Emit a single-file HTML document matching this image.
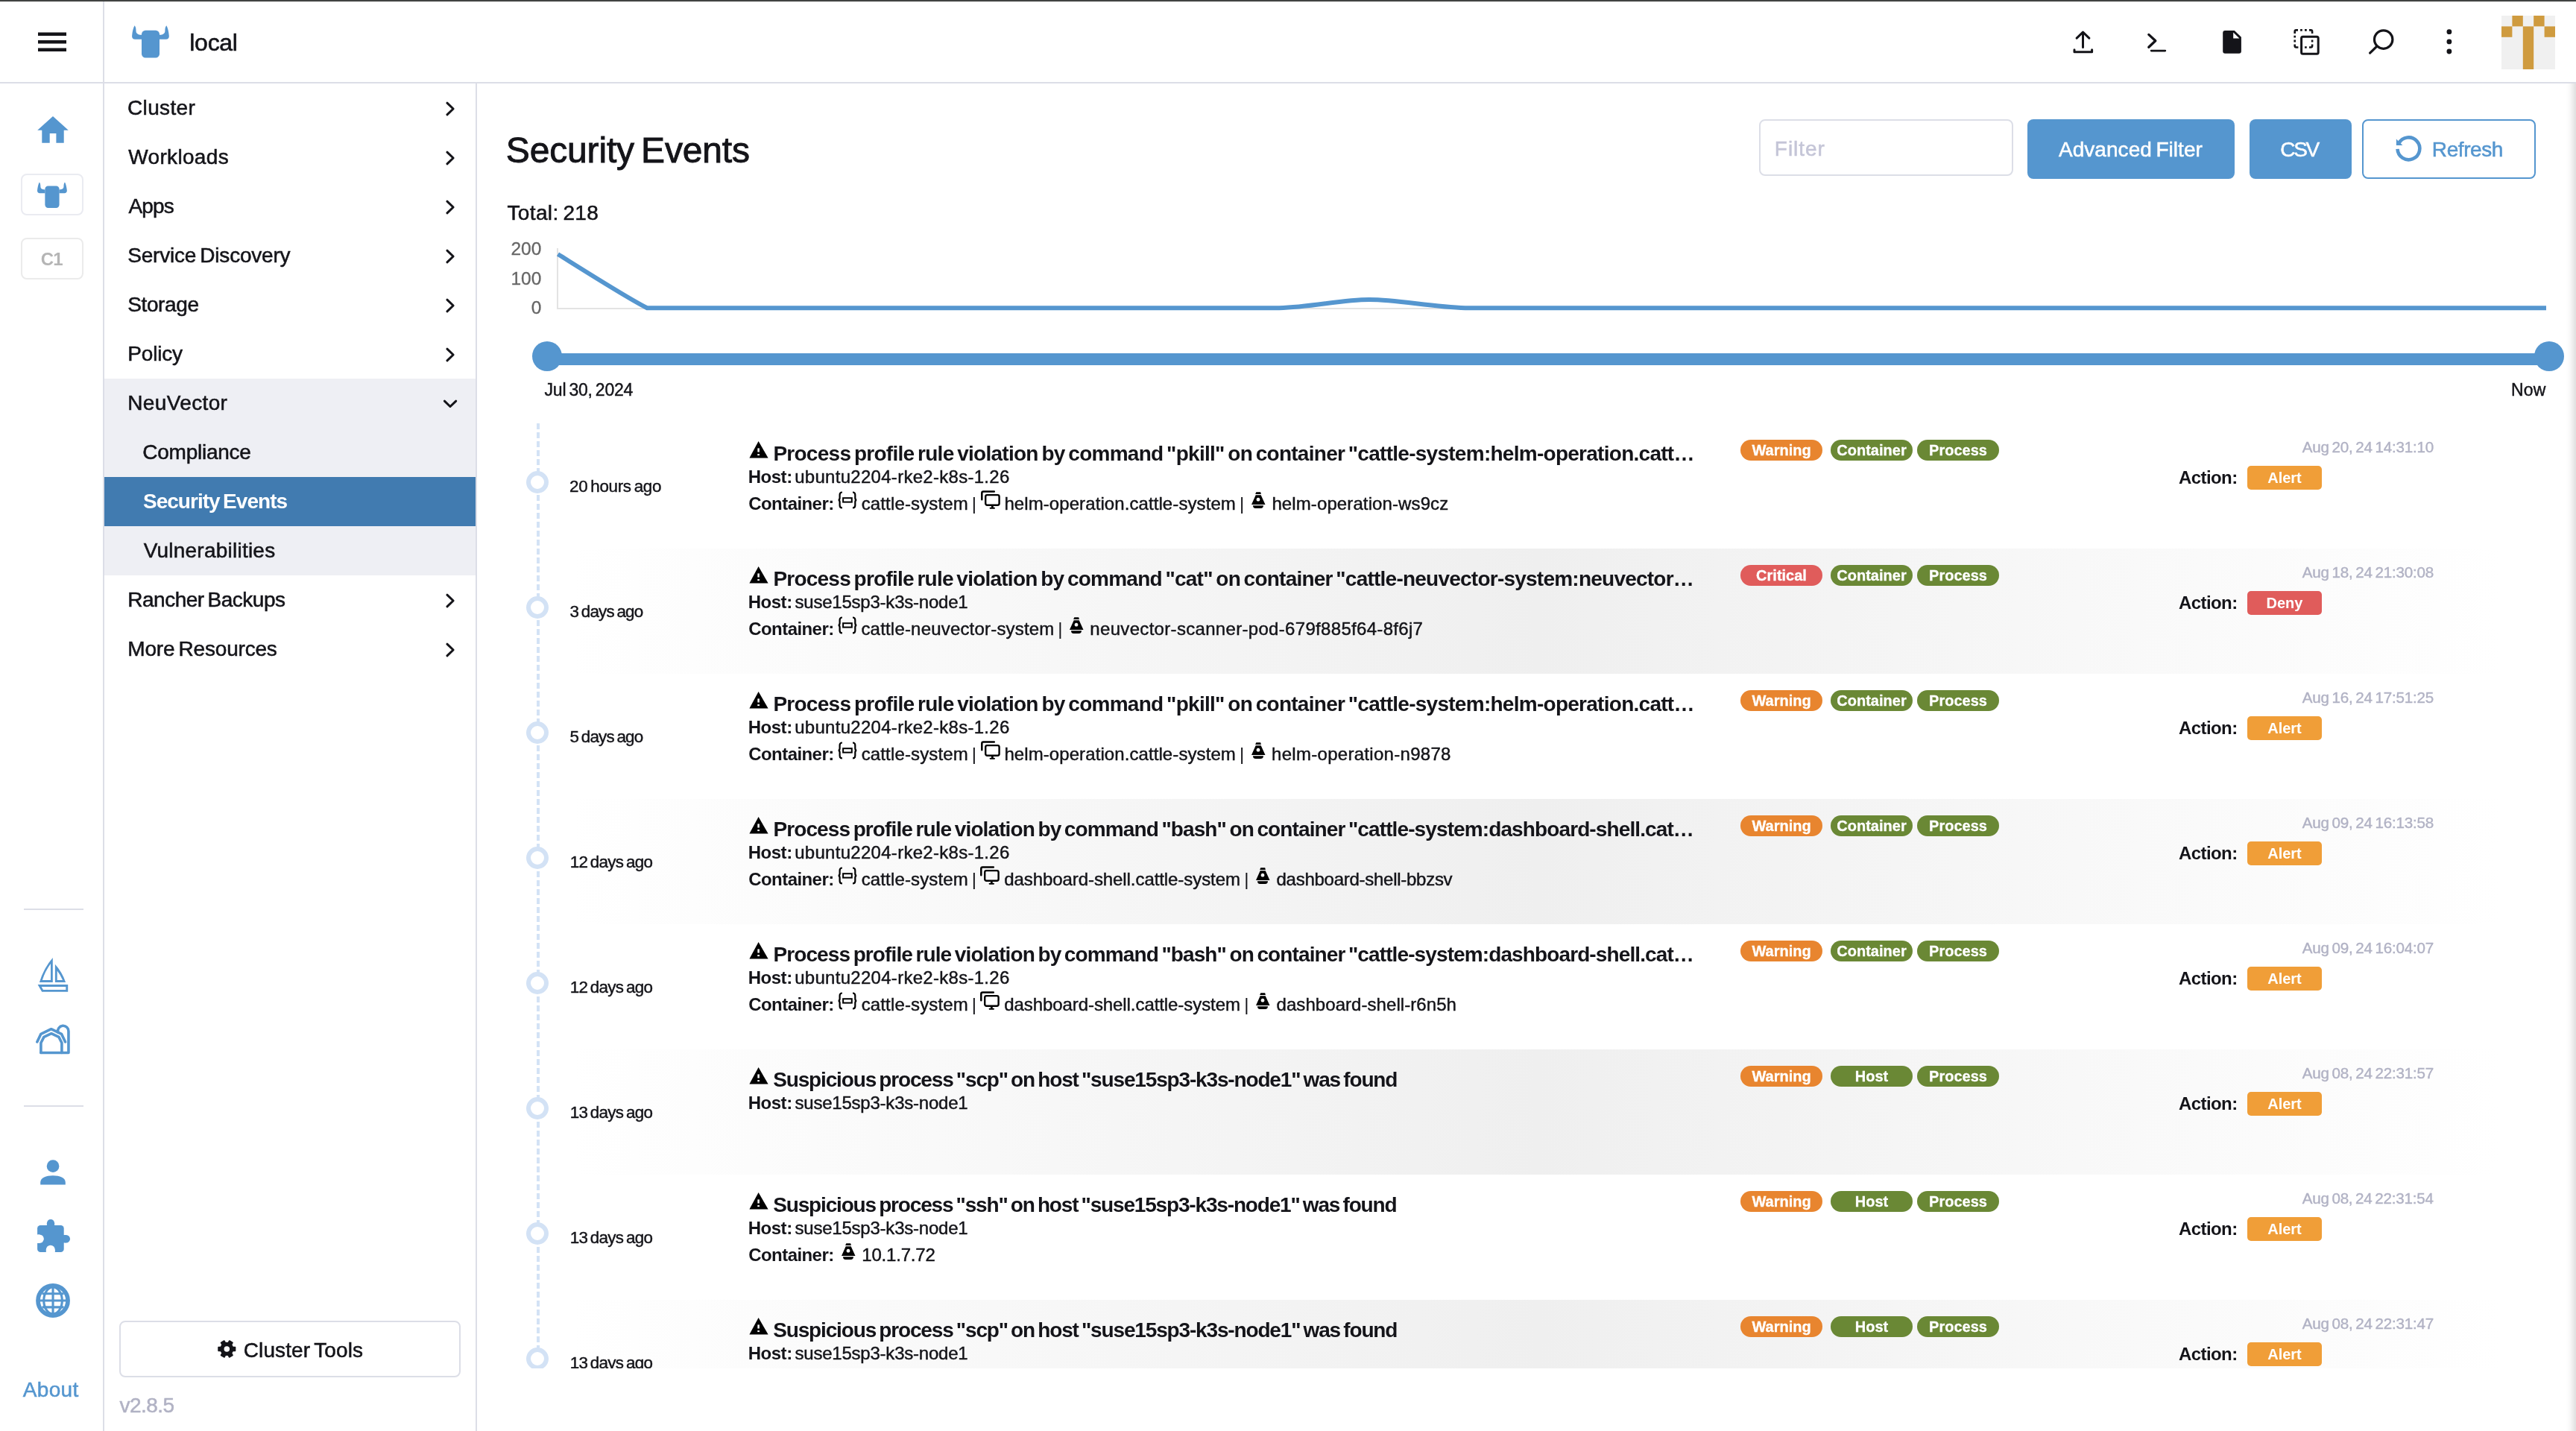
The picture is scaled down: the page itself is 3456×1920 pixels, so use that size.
<!DOCTYPE html><html lang="en"><head><meta charset="utf-8"><title>Security Events</title><style>
html,body{margin:0;padding:0}
body{width:3456px;height:1920px;overflow:hidden;background:#fff;position:relative;
 font-family:"Liberation Sans",sans-serif;color:#141419;}
body *{position:absolute;box-sizing:border-box}
.t{white-space:pre;line-height:1;display:block;-webkit-text-stroke:0.019em}
.b{-webkit-text-stroke:0}
svg{display:block;overflow:visible}
.bd{-webkit-text-stroke:0.3px;font-weight:700;color:#fff;font-size:20px;line-height:28px;height:28px;width:110px;border-radius:14px;text-align:center;white-space:pre}
.act{font-weight:700;color:#fff;font-size:20px;border-radius:5px;text-align:center;white-space:pre}
</style></head><body><div id="app" style="left:0;top:0;width:3456px;height:1920px;will-change:transform">
<div style="left:0.00px;top:0.00px;width:3456.00px;height:1.00px;background:#464847"></div>
<div style="left:0.00px;top:1.00px;width:3456.00px;height:1.00px;background:#383938"></div>
<header style="left:0;top:0">
<div style="left:0.00px;top:2.00px;width:3456.00px;height:110.00px;border-bottom:2px solid #dcdee7"></div>
<div style="left:138.00px;top:2.00px;width:2.00px;height:1918.00px;background:#dcdee7"></div>
<svg style="left:51px;top:43px;" width="38" height="27" viewBox="51 43 38 27"><path fill="#141419" d="M51,43.4h38v4.5h-38z M51,53.9h38v4.5h-38z M51,64.4h38v4.5h-38z"/></svg>
<svg style="left:176px;top:34px;" width="52" height="44" viewBox="176 34 52 44"><g transform="translate(176.8 34.3) scale(1)" fill="#5596cf"><rect x="13.2" y="6.4" width="24" height="36.7" rx="5.2"/><path d="M3.8,0 C5.3,1.6 5.7,4.2 5.7,7 C5.7,10.6 8,12.5 13.3,12.5 L13.3,18.5 L4.6,18.5 C1.6,18.5 0,16.6 0.3,13.6 C0.8,8 2.1,3 3.8,0 Z"/><path d="M46.5,0 C45,1.6 44.6,4.2 44.6,7 C44.6,10.6 42.3,12.5 37,12.5 L37,18.5 L45.7,18.5 C48.7,18.5 50.3,16.6 50,13.6 C49.5,8 48.2,3 46.5,0 Z"/></g></svg>
<span class="t" style="left:254.29px;top:41.00px;font-size:32.00px;letter-spacing:-0.279px;">local</span>
<svg style="left:2778px;top:38px;" width="34" height="36" viewBox="2778 38 34 36"><g fill="none" stroke="#141419" stroke-width="3" stroke-linecap="round" stroke-linejoin="round"><path d="M2794.5,43.4V63.4 M2786.2,51.2 L2794.5,43.2 L2802.8,51.2"/><path d="M2783,66.8V69.8H2806.6V66.8"/></g></svg>
<svg style="left:2878px;top:42px;" width="32" height="30" viewBox="2878 42 32 30"><g fill="none" stroke="#141419" stroke-width="3" stroke-linecap="round" stroke-linejoin="round"><path stroke-width="3.3" d="M2882.8,46.4 L2891.8,54.8 L2882.8,63.3"/><path d="M2886.2,68.1H2904.8" stroke-width="2.8"/></g></svg>
<svg style="left:2980px;top:39px;" width="30" height="35" viewBox="2980 39 30 35"><path fill="#141419" d="M2985.2,41H2997.8L3006.9,49.7V68.7a3,3 0 0 1 -3,3H2985.2a3,3 0 0 1 -3,-3V44a3,3 0 0 1 3,-3Z"/><path fill="#fff" d="M2996.2,43.4V51.6H3004.4Z"/></svg>
<svg style="left:3075px;top:37px;" width="40" height="38" viewBox="3075 37 40 38"><g fill="none" stroke="#141419"><path stroke-width="2.6" d="M3078.7,44.9 V42.4 Q3078.7,40.4 3080.7,40.4 H3083 M3086.1,40.4 H3088.8 M3092,40.4 H3094.8 M3098,40.4 H3100.1 Q3102.1,40.4 3102.1,42.4 V44.9 M3078.7,47.8 V50.6 M3078.7,53.6 V56.6 M3078.7,59.5 V61.5 Q3078.7,63.5 3080.7,63.5 H3083.4 M3092,63.5 H3094.8 M3098,63.5 H3100.1 Q3102.1,63.5 3102.1,61.5 V59.5 M3102.1,53.5 V56.6"/><rect x="3087.6" y="49.2" width="22.6" height="23" rx="2" stroke-width="3"/></g></svg>
<svg style="left:3174px;top:37px;" width="40" height="40" viewBox="3174 37 40 40"><g fill="none" stroke="#141419" stroke-width="3.2" stroke-linecap="round"><circle cx="3197.7" cy="53.1" r="12.2"/><path d="M3188.6,62.4 L3179.6,71.1"/></g></svg>
<svg style="left:3280px;top:38px;" width="12" height="36" viewBox="3280 38 12 36"><g fill="#141419"><circle cx="3285.9" cy="42.7" r="3.4"/><circle cx="3285.9" cy="55.9" r="3.4"/><circle cx="3285.9" cy="69" r="3.4"/></g></svg>
<svg style="left:3356px;top:21px;" width="72" height="72" viewBox="3356 21 72 72"><rect x="3356" y="21" width="72" height="72" fill="#f0f0f0"/><g fill="#cf9b3f"><rect x="3370.4" y="21" width="14.4" height="14.4"/><rect x="3399.2" y="21" width="14.4" height="14.4"/><rect x="3356" y="35.4" width="14.4" height="14.4"/><rect x="3384.8" y="35.4" width="14.4" height="57.6"/><rect x="3413.6" y="35.4" width="14.4" height="14.4"/></g></svg>
</header>
<nav id="strip" style="left:0;top:0">
<svg style="left:50px;top:156px;" width="42" height="36" viewBox="50 156 42 36"><path fill="#5596cf" d="M71,156 L91.8,174.7 H85.7 V191.8 H75.4 V179.1 H66.7 V191.8 H56.3 V174.7 H50.2 Z"/></svg>
<div style="left:28.00px;top:233.00px;width:84.00px;height:56.00px;border:2px solid #eaebf1;border-radius:8px"></div>
<svg style="left:49px;top:244px;" width="42" height="35" viewBox="49 244 42 35"><g transform="translate(49.8 244.4) scale(0.8)" fill="#5596cf"><rect x="13.2" y="6.4" width="24" height="36.7" rx="5.2"/><path d="M3.8,0 C5.3,1.6 5.7,4.2 5.7,7 C5.7,10.6 8,12.5 13.3,12.5 L13.3,18.5 L4.6,18.5 C1.6,18.5 0,16.6 0.3,13.6 C0.8,8 2.1,3 3.8,0 Z"/><path d="M46.5,0 C45,1.6 44.6,4.2 44.6,7 C44.6,10.6 42.3,12.5 37,12.5 L37,18.5 L45.7,18.5 C48.7,18.5 50.3,16.6 50,13.6 C49.5,8 48.2,3 46.5,0 Z"/></g></svg>
<div style="left:28.00px;top:319.00px;width:84.00px;height:56.00px;border:2px solid #ebebeb;border-radius:8px"></div>
<span class="t b" style="left:54.77px;top:336.00px;font-size:24.00px;letter-spacing:-0.727px;font-weight:700;color:#b5b5b5;">C1</span>
<div style="left:32.00px;top:1219.00px;width:80.00px;height:2.00px;background:#dcdee7"></div>
<svg style="left:50px;top:1284px;" width="42" height="48" viewBox="50 1284 42 48"><g fill="#5596cf" fill-rule="evenodd"><path d="M70.8,1284.9 Q58.5,1299 52.9,1317.9 H70.8 Z M68,1292.9 Q60.5,1303 56.8,1315.1 H68 Z"/><path d="M73.9,1293.8 Q83.5,1304.5 88.1,1317.9 H73.9 Z M76.7,1302.4 Q81.2,1308 84,1315.1 H76.7 Z"/><path d="M50.6,1321.1 H91.2 V1330.8 H56.2 Z M55.7,1324 H88.3 V1328 H57.9 Z"/></g></svg>
<svg style="left:47px;top:1373px;" width="48" height="43" viewBox="47 1373 48 43"><g fill="none" stroke="#5596cf" stroke-width="3.6" stroke-linecap="round" stroke-linejoin="round"><path d="M49.8,1398 L54.9,1387.3 L68.7,1380.7 L82.5,1387.3 L87.6,1398"/><path d="M54.9,1412.5 V1399.25 L58.9,1391.4 L68.9,1386.7 L78.9,1391.4 L82.9,1399.25 V1412.5"/><path d="M77.6,1385 A7.25,7.25 0 1 1 91.95,1383.8 V1412.5 H54.9"/></g></svg>
<div style="left:32.00px;top:1483.00px;width:80.00px;height:2.00px;background:#dcdee7"></div>
<svg style="left:54px;top:1556px;" width="34" height="34" viewBox="54 1556 34 34"><g fill="#5596cf"><circle cx="71.05" cy="1564.7" r="8.35"/><path d="M54.2,1589.6 V1586.4 C54.2,1580.2 62,1577.3 71,1577.3 C80,1577.3 87.8,1580.2 87.8,1586.4 V1589.6 Z"/></g></svg>
<svg style="left:50px;top:1636px;" width="45" height="45" viewBox="50 1636 45 45"><g fill="#5596cf"><rect x="50.1" y="1644.1" width="35.6" height="36" rx="4.2"/><circle cx="68" cy="1641.2" r="5.1"/><rect x="62.9" y="1641.2" width="10.2" height="5"/><circle cx="88.8" cy="1662.2" r="5.2"/><rect x="84" y="1657" width="4.8" height="10.4"/></g><g fill="#fff"><circle cx="53" cy="1662.2" r="5.8"/><rect x="49.5" y="1656.4" width="3.5" height="11.6"/><circle cx="67.8" cy="1676.7" r="6"/><rect x="61.8" y="1676.7" width="12" height="4"/></g></svg>
<svg style="left:48px;top:1722px;" width="46" height="46" viewBox="48 1722 46 46"><g fill="none" stroke="#5596cf"><path stroke-width="3.1" d="M71.04,1726V1764 M56.5,1735.7H85.6 M52,1745H90 M56.5,1753.9H85.6"/><ellipse cx="71.04" cy="1745" rx="12.3" ry="18" stroke-width="3.1"/><circle cx="71.04" cy="1745" r="20.05" stroke-width="5.7"/></g></svg>
<span class="t" style="left:30.80px;top:1851.00px;font-size:28.00px;letter-spacing:0.297px;color:#5596cf;">About</span>
</nav>
<nav id="sidenav" style="left:0;top:0">
<div style="left:638.00px;top:112.00px;width:2.00px;height:1808.00px;background:#dcdee7"></div>
<div style="left:140.00px;top:508.00px;width:498.00px;height:264.00px;background:#eeeff4"></div>
<div style="left:140.00px;top:640.00px;width:498.00px;height:66.00px;background:#417bb0"></div>
<span class="t" style="left:171.03px;top:131.00px;font-size:28.00px;letter-spacing:0.350px;">Cluster</span>
<span class="t" style="left:172.33px;top:197.00px;font-size:28.00px;letter-spacing:0.322px;">Workloads</span>
<span class="t" style="left:172.40px;top:263.00px;font-size:28.00px;letter-spacing:-0.785px;">Apps</span>
<span class="t" style="left:171.18px;top:329.00px;font-size:28.00px;letter-spacing:-0.203px;word-spacing:-2.38px;">Service Discovery</span>
<span class="t" style="left:171.18px;top:395.00px;font-size:28.00px;letter-spacing:-0.375px;">Storage</span>
<span class="t" style="left:171.25px;top:461.00px;font-size:28.00px;letter-spacing:-0.168px;">Policy</span>
<span class="t" style="left:171.25px;top:527.00px;font-size:28.00px;letter-spacing:0.365px;">NeuVector</span>
<span class="t" style="left:191.33px;top:593.00px;font-size:28.00px;letter-spacing:-0.254px;">Compliance</span>
<span class="t b" style="left:191.94px;top:659.00px;font-size:28.00px;letter-spacing:-0.969px;word-spacing:-2.38px;font-weight:700;color:#fff;">Security Events</span>
<span class="t" style="left:192.63px;top:725.00px;font-size:28.00px;letter-spacing:0.233px;">Vulnerabilities</span>
<span class="t" style="left:171.25px;top:791.00px;font-size:28.00px;letter-spacing:-0.494px;word-spacing:-2.38px;">Rancher Backups</span>
<span class="t" style="left:171.25px;top:857.00px;font-size:28.00px;letter-spacing:-0.186px;word-spacing:-2.38px;">More Resources</span>
<svg style="left:590px;top:112px;" width="30" height="800" viewBox="590 112 30 800"><g fill="none" stroke="#141419" stroke-width="3" stroke-linecap="round" stroke-linejoin="round"><path d="M599.9,138.2 L608.1,146 L599.9,153.8"/><path d="M599.9,204.2 L608.1,212 L599.9,219.8"/><path d="M599.9,270.2 L608.1,278 L599.9,285.8"/><path d="M599.9,336.2 L608.1,344 L599.9,351.8"/><path d="M599.9,402.2 L608.1,410 L599.9,417.8"/><path d="M599.9,468.2 L608.1,476 L599.9,483.8"/><path d="M596.4,538.1 L604,545.5 L611.7,538.1"/><path d="M599.9,798.2 L608.1,806 L599.9,813.8"/><path d="M599.9,864.2 L608.1,872 L599.9,879.8"/></g></svg>
<div style="left:160.00px;top:1772.00px;width:458.00px;height:76.00px;border:2px solid #dcdee7;border-radius:8px"></div>
<svg style="left:292px;top:1797px;" width="25" height="26" viewBox="292 1797 25 26"><g transform="translate(304.3 1809.95)" fill="#141419"><circle r="9.1"/><rect x="-3.3" y="-12.05" width="6.6" height="8" rx="1" transform="rotate(30)"/><rect x="-3.3" y="-12.05" width="6.6" height="8" rx="1" transform="rotate(90)"/><rect x="-3.3" y="-12.05" width="6.6" height="8" rx="1" transform="rotate(150)"/><rect x="-3.3" y="-12.05" width="6.6" height="8" rx="1" transform="rotate(210)"/><rect x="-3.3" y="-12.05" width="6.6" height="8" rx="1" transform="rotate(270)"/><rect x="-3.3" y="-12.05" width="6.6" height="8" rx="1" transform="rotate(330)"/><circle r="3.75" fill="#fff"/></g></svg>
<span class="t" style="left:326.73px;top:1798.00px;font-size:28.00px;letter-spacing:0.115px;word-spacing:-2.38px;">Cluster Tools</span>
<span class="t" style="left:160.45px;top:1872.00px;font-size:28.00px;letter-spacing:-0.521px;color:#b1b2c4;">v2.8.5</span>
</nav>
<main style="left:0;top:0">
<div style="left:3443.00px;top:112.00px;width:13.00px;height:1808.00px;background:linear-gradient(to right,rgba(0,0,0,0),rgba(0,0,0,0.03) 40%,rgba(0,0,0,0.12))"></div>
<span class="t" style="left:678.87px;top:178.00px;font-size:48.00px;letter-spacing:-0.162px;word-spacing:-4.08px;">Security Events</span>
<span class="t" style="left:680.42px;top:272.00px;font-size:28.00px;letter-spacing:0.378px;word-spacing:-2.38px;">Total: 218</span>
<div style="left:2360.00px;top:160.00px;width:341.00px;height:76.00px;border:2px solid #dcdee7;border-radius:8px"></div>
<span class="t" style="left:2380.85px;top:186.00px;font-size:28.00px;letter-spacing:0.928px;color:#c4c5d7;">Filter</span>
<div style="left:2720.00px;top:160.00px;width:278.00px;height:80.00px;background:#5596cf;border-radius:8px"></div>
<span class="t" style="left:2761.90px;top:187.00px;font-size:28.00px;letter-spacing:0.062px;word-spacing:-2.38px;color:#fff;">Advanced Filter</span>
<div style="left:3018.00px;top:160.00px;width:137.00px;height:80.00px;background:#5596cf;border-radius:8px"></div>
<span class="t" style="left:3059.33px;top:187.00px;font-size:28.00px;letter-spacing:-2.364px;color:#fff;">CSV</span>
<div style="left:3169.00px;top:160.00px;width:233.00px;height:80.00px;border:2px solid #5596cf;border-radius:8px"></div>
<svg style="left:3212px;top:180px;" width="40" height="40" viewBox="3212 180 40 40"><path fill="none" stroke="#5596cf" stroke-width="4.6" d="M3216.54,199.9 A14.9,14.9 0 1 0 3218.3,192.3"/><path fill="#5596cf" d="M3214.9,186.6 V195.1 H3223.4 Z"/></svg>
<span class="t" style="left:3262.85px;top:187.00px;font-size:28.00px;letter-spacing:-0.421px;color:#5596cf;">Refresh</span>
<span class="t" style="left:685.38px;top:322.00px;font-size:24.50px;color:#666666;-webkit-text-stroke:0.3px;">200</span>
<span class="t" style="left:685.38px;top:362.00px;font-size:24.50px;color:#666666;-webkit-text-stroke:0.3px;">100</span>
<span class="t" style="left:712.63px;top:401.00px;font-size:24.50px;color:#666666;-webkit-text-stroke:0.3px;">0</span>
<svg style="left:740px;top:325px;" width="2690" height="100" viewBox="740 325 2690 100"><path d="M748,333V414H3416" fill="none" stroke="#e3e3e3" stroke-width="2"/><path d="M748.5,341 C788.5,366 842,400 868.2,413.2 L1716,413.2 C1760,412 1800,402 1837,402 C1876,402 1920,412 1966,413.2 L3416,413.2" fill="none" stroke="#5596cf" stroke-width="6" stroke-linejoin="round"/></svg>
<div style="left:733.80px;top:474.00px;width:2686.40px;height:16.00px;background:#5596cf"></div>
<div style="left:713.80px;top:458.00px;width:40.00px;height:40.00px;background:#5596cf;border-radius:50%"></div>
<div style="left:3400.20px;top:458.00px;width:40.00px;height:40.00px;background:#5596cf;border-radius:50%"></div>
<span class="t" style="left:730.59px;top:512.00px;font-size:23.00px;letter-spacing:-0.243px;word-spacing:-1.96px;">Jul 30, 2024</span>
<span class="t" style="left:3368.96px;top:512.00px;font-size:23.00px;letter-spacing:0.260px;">Now</span>
<div class="tl-line" style="left:720.00px;top:568.00px;width:4.00px;height:1268.00px;background:repeating-linear-gradient(to bottom,#d3e2f5 0,#d3e2f5 8px,rgba(255,255,255,0) 8px,rgba(255,255,255,0) 12.0102px)"></div>
<ul style="left:640px;top:568px;width:2816px;height:1268px;overflow:hidden;margin:0;padding:0;list-style:none">
<li style="left:0;top:0px;width:2816px;height:168px;">
<div class="tl-dot" style="left:66.00px;top:64.00px;width:30.00px;height:30.00px;border:6px solid #d3e2f5;border-radius:50%;background:#fff"></div>
<span class="t" style="left:124.12px;top:74.00px;font-size:22.40px;letter-spacing:-0.327px;word-spacing:-1.90px;">20 hours ago</span>
<svg class="i-warn" style="left:365.00px;top:24.20px" width="26" height="23" viewBox="0 0 26 23"><path fill="#000" d="M12.6,0 L25.6,22.5 H0.4 Z"/><rect x="11.35" y="9.4" width="2.5" height="5.1" fill="#fff"/><rect x="11.25" y="17.1" width="2.7" height="2" fill="#fff"/></svg>
<span class="t b" style="left:397.38px;top:27.00px;font-size:28.00px;letter-spacing:-0.728px;word-spacing:-2.38px;font-weight:700;">Process profile rule violation by command "pkill" on container "cattle-system:helm-operation.catt…</span>
<span class="t b" style="left:363.64px;top:60.00px;font-size:24.00px;letter-spacing:-0.453px;font-weight:700;">Host:</span>
<span class="t" style="left:426.19px;top:60.00px;font-size:24.00px;letter-spacing:0.287px;">ubuntu2204-rke2-k8s-1.26</span>
<span class="t b" style="left:364.27px;top:96.00px;font-size:24.00px;letter-spacing:-0.567px;font-weight:700;">Container:</span>
<svg class="i-ns" style="left:484.00px;top:91.00px" width="26" height="24" viewBox="0 0 26 24"><g fill="none" stroke="#000"><path stroke-width="2.2" d="M5.9,1.5 Q2.6,1.5 2.6,5 V9 Q2.6,11.8 0.6,11.8 Q2.6,11.8 2.6,14.6 V19 Q2.6,22.4 5.9,22.4"/><path stroke-width="2.2" d="M20,1.5 Q23.3,1.5 23.3,5 V9 Q23.3,11.8 25.3,11.8 Q23.3,11.8 23.3,14.6 V19 Q23.3,22.4 20,22.4"/><rect x="7.1" y="9.2" width="11.7" height="5.4" stroke-width="2"/></g></svg>
<span class="t" style="left:515.63px;top:96.00px;font-size:24.00px;letter-spacing:0.153px;">cattle-system</span>
<span class="t" style="left:663.66px;top:96.00px;font-size:24.00px;-webkit-text-stroke:0;">|</span>
<svg class="i-mon" style="left:676.00px;top:90.00px" width="27" height="25" viewBox="0 0 27 25"><g fill="none" stroke="#000" stroke-linecap="round" stroke-linejoin="round"><path stroke-width="2.5" d="M1.3,12.3 V3.4 Q1.3,1.4 3.3,1.4 H17.8"/><rect x="6.2" y="6.1" width="18.4" height="13.6" rx="2.2" stroke-width="2.4"/><path stroke-width="2.7" stroke-linecap="butt" d="M15.35,20.5 V23.4"/><path stroke-width="1.9" d="M12.6,23.8 H18"/></g></svg>
<span class="t" style="left:707.39px;top:96.00px;font-size:24.00px;letter-spacing:0.086px;">helm-operation.cattle-system</span>
<span class="t" style="left:1023.06px;top:96.00px;font-size:24.00px;-webkit-text-stroke:0;">|</span>
<svg class="i-pod" style="left:1039.20px;top:91.80px" width="19" height="23" viewBox="0 0 19 23"><g fill="#000"><path d="M6.3,0.3 H12.2 L12.9,2.9 H5.2 Z"/><path fill-rule="evenodd" d="M5.7,4.3 H12.7 L18.5,17 H0 Z M9,7.8 a2.4,2.4 0 1 0 0.01,0 Z"/><path d="M2,18.3 H16 Q16,21.9 12.4,21.9 H5.4 Q2,21.9 2,18.3 Z"/></g></svg>
<span class="t" style="left:1066.39px;top:96.00px;font-size:24.00px;letter-spacing:0.110px;">helm-operation-ws9cz</span>
<div class="bd" style="left:1695.00px;top:22.00px;width:110.00px;height:28.00px;background:#e8852f">Warning</div>
<div class="bd" style="left:1816.00px;top:22.00px;width:110.00px;height:28.00px;background:#6a8835">Container</div>
<div class="bd" style="left:1932.00px;top:22.00px;width:110.00px;height:28.00px;background:#6a8835">Process</div>
<span class="t" style="left:2448.71px;top:22.00px;font-size:20.60px;letter-spacing:-0.215px;word-spacing:-1.75px;color:#b1b2c4;">Aug 20, 24 14:31:10</span>
<span class="t b" style="left:2283.05px;top:61.00px;font-size:24.00px;letter-spacing:-0.591px;font-weight:700;">Action:</span>
<div class="act" style="left:2375.00px;top:57.00px;width:100.00px;height:31.60px;background:#f09e38;line-height:33.4px">Alert</div>
</li>
<li style="left:0;top:168px;width:2816px;height:168px;background:linear-gradient(to right,#fff,#efefef 50%,#fff) 130px 0/2582px 168px no-repeat;">
<div class="tl-dot" style="left:66.00px;top:64.00px;width:30.00px;height:30.00px;border:6px solid #d3e2f5;border-radius:50%;background:#fff"></div>
<span class="t" style="left:124.60px;top:74.00px;font-size:22.40px;letter-spacing:-0.799px;word-spacing:-1.90px;">3 days ago</span>
<svg class="i-warn" style="left:365.00px;top:24.20px" width="26" height="23" viewBox="0 0 26 23"><path fill="#000" d="M12.6,0 L25.6,22.5 H0.4 Z"/><rect x="11.35" y="9.4" width="2.5" height="5.1" fill="#fff"/><rect x="11.25" y="17.1" width="2.7" height="2" fill="#fff"/></svg>
<span class="t b" style="left:397.38px;top:27.00px;font-size:28.00px;letter-spacing:-0.767px;word-spacing:-2.38px;font-weight:700;">Process profile rule violation by command "cat" on container "cattle-neuvector-system:neuvector…</span>
<span class="t b" style="left:363.64px;top:60.00px;font-size:24.00px;letter-spacing:-0.453px;font-weight:700;">Host:</span>
<span class="t" style="left:426.58px;top:60.00px;font-size:24.00px;letter-spacing:-0.229px;">suse15sp3-k3s-node1</span>
<span class="t b" style="left:364.27px;top:96.00px;font-size:24.00px;letter-spacing:-0.567px;font-weight:700;">Container:</span>
<svg class="i-ns" style="left:484.00px;top:91.00px" width="26" height="24" viewBox="0 0 26 24"><g fill="none" stroke="#000"><path stroke-width="2.2" d="M5.9,1.5 Q2.6,1.5 2.6,5 V9 Q2.6,11.8 0.6,11.8 Q2.6,11.8 2.6,14.6 V19 Q2.6,22.4 5.9,22.4"/><path stroke-width="2.2" d="M20,1.5 Q23.3,1.5 23.3,5 V9 Q23.3,11.8 25.3,11.8 Q23.3,11.8 23.3,14.6 V19 Q23.3,22.4 20,22.4"/><rect x="7.1" y="9.2" width="11.7" height="5.4" stroke-width="2"/></g></svg>
<span class="t" style="left:515.43px;top:96.00px;font-size:24.00px;letter-spacing:0.189px;">cattle-neuvector-system</span>
<span class="t" style="left:779.16px;top:96.00px;font-size:24.00px;-webkit-text-stroke:0;">|</span>
<svg class="i-pod" style="left:795.10px;top:91.80px" width="19" height="23" viewBox="0 0 19 23"><g fill="#000"><path d="M6.3,0.3 H12.2 L12.9,2.9 H5.2 Z"/><path fill-rule="evenodd" d="M5.7,4.3 H12.7 L18.5,17 H0 Z M9,7.8 a2.4,2.4 0 1 0 0.01,0 Z"/><path d="M2,18.3 H16 Q16,21.9 12.4,21.9 H5.4 Q2,21.9 2,18.3 Z"/></g></svg>
<span class="t" style="left:822.36px;top:96.00px;font-size:24.00px;letter-spacing:0.315px;">neuvector-scanner-pod-679f885f64-8f6j7</span>
<div class="bd" style="left:1695.00px;top:22.00px;width:110.00px;height:28.00px;background:#e05c5b">Critical</div>
<div class="bd" style="left:1816.00px;top:22.00px;width:110.00px;height:28.00px;background:#6a8835">Container</div>
<div class="bd" style="left:1932.00px;top:22.00px;width:110.00px;height:28.00px;background:#6a8835">Process</div>
<span class="t" style="left:2448.71px;top:22.00px;font-size:20.60px;letter-spacing:-0.210px;word-spacing:-1.75px;color:#b1b2c4;">Aug 18, 24 21:30:08</span>
<span class="t b" style="left:2283.05px;top:61.00px;font-size:24.00px;letter-spacing:-0.591px;font-weight:700;">Action:</span>
<div class="act" style="left:2375.00px;top:57.00px;width:100.00px;height:31.60px;background:#e05c5b;line-height:33.4px">Deny</div>
</li>
<li style="left:0;top:336px;width:2816px;height:168px;">
<div class="tl-dot" style="left:66.00px;top:64.00px;width:30.00px;height:30.00px;border:6px solid #d3e2f5;border-radius:50%;background:#fff"></div>
<span class="t" style="left:124.55px;top:74.00px;font-size:22.40px;letter-spacing:-0.794px;word-spacing:-1.90px;">5 days ago</span>
<svg class="i-warn" style="left:365.00px;top:24.20px" width="26" height="23" viewBox="0 0 26 23"><path fill="#000" d="M12.6,0 L25.6,22.5 H0.4 Z"/><rect x="11.35" y="9.4" width="2.5" height="5.1" fill="#fff"/><rect x="11.25" y="17.1" width="2.7" height="2" fill="#fff"/></svg>
<span class="t b" style="left:397.38px;top:27.00px;font-size:28.00px;letter-spacing:-0.728px;word-spacing:-2.38px;font-weight:700;">Process profile rule violation by command "pkill" on container "cattle-system:helm-operation.catt…</span>
<span class="t b" style="left:363.64px;top:60.00px;font-size:24.00px;letter-spacing:-0.453px;font-weight:700;">Host:</span>
<span class="t" style="left:426.19px;top:60.00px;font-size:24.00px;letter-spacing:0.287px;">ubuntu2204-rke2-k8s-1.26</span>
<span class="t b" style="left:364.27px;top:96.00px;font-size:24.00px;letter-spacing:-0.567px;font-weight:700;">Container:</span>
<svg class="i-ns" style="left:484.00px;top:91.00px" width="26" height="24" viewBox="0 0 26 24"><g fill="none" stroke="#000"><path stroke-width="2.2" d="M5.9,1.5 Q2.6,1.5 2.6,5 V9 Q2.6,11.8 0.6,11.8 Q2.6,11.8 2.6,14.6 V19 Q2.6,22.4 5.9,22.4"/><path stroke-width="2.2" d="M20,1.5 Q23.3,1.5 23.3,5 V9 Q23.3,11.8 25.3,11.8 Q23.3,11.8 23.3,14.6 V19 Q23.3,22.4 20,22.4"/><rect x="7.1" y="9.2" width="11.7" height="5.4" stroke-width="2"/></g></svg>
<span class="t" style="left:515.63px;top:96.00px;font-size:24.00px;letter-spacing:0.153px;">cattle-system</span>
<span class="t" style="left:663.66px;top:96.00px;font-size:24.00px;-webkit-text-stroke:0;">|</span>
<svg class="i-mon" style="left:676.00px;top:90.00px" width="27" height="25" viewBox="0 0 27 25"><g fill="none" stroke="#000" stroke-linecap="round" stroke-linejoin="round"><path stroke-width="2.5" d="M1.3,12.3 V3.4 Q1.3,1.4 3.3,1.4 H17.8"/><rect x="6.2" y="6.1" width="18.4" height="13.6" rx="2.2" stroke-width="2.4"/><path stroke-width="2.7" stroke-linecap="butt" d="M15.35,20.5 V23.4"/><path stroke-width="1.9" d="M12.6,23.8 H18"/></g></svg>
<span class="t" style="left:707.39px;top:96.00px;font-size:24.00px;letter-spacing:0.086px;">helm-operation.cattle-system</span>
<span class="t" style="left:1023.06px;top:96.00px;font-size:24.00px;-webkit-text-stroke:0;">|</span>
<svg class="i-pod" style="left:1038.90px;top:91.80px" width="19" height="23" viewBox="0 0 19 23"><g fill="#000"><path d="M6.3,0.3 H12.2 L12.9,2.9 H5.2 Z"/><path fill-rule="evenodd" d="M5.7,4.3 H12.7 L18.5,17 H0 Z M9,7.8 a2.4,2.4 0 1 0 0.01,0 Z"/><path d="M2,18.3 H16 Q16,21.9 12.4,21.9 H5.4 Q2,21.9 2,18.3 Z"/></g></svg>
<span class="t" style="left:1066.09px;top:96.00px;font-size:24.00px;letter-spacing:0.289px;">helm-operation-n9878</span>
<div class="bd" style="left:1695.00px;top:22.00px;width:110.00px;height:28.00px;background:#e8852f">Warning</div>
<div class="bd" style="left:1816.00px;top:22.00px;width:110.00px;height:28.00px;background:#6a8835">Container</div>
<div class="bd" style="left:1932.00px;top:22.00px;width:110.00px;height:28.00px;background:#6a8835">Process</div>
<span class="t" style="left:2448.71px;top:22.00px;font-size:20.60px;letter-spacing:-0.211px;word-spacing:-1.75px;color:#b1b2c4;">Aug 16, 24 17:51:25</span>
<span class="t b" style="left:2283.05px;top:61.00px;font-size:24.00px;letter-spacing:-0.591px;font-weight:700;">Action:</span>
<div class="act" style="left:2375.00px;top:57.00px;width:100.00px;height:31.60px;background:#f09e38;line-height:33.4px">Alert</div>
</li>
<li style="left:0;top:504px;width:2816px;height:168px;background:linear-gradient(to right,#fff,#efefef 50%,#fff) 130px 0/2582px 168px no-repeat;">
<div class="tl-dot" style="left:66.00px;top:64.00px;width:30.00px;height:30.00px;border:6px solid #d3e2f5;border-radius:50%;background:#fff"></div>
<span class="t" style="left:124.64px;top:74.00px;font-size:22.40px;letter-spacing:-0.690px;word-spacing:-1.90px;">12 days ago</span>
<svg class="i-warn" style="left:365.00px;top:24.20px" width="26" height="23" viewBox="0 0 26 23"><path fill="#000" d="M12.6,0 L25.6,22.5 H0.4 Z"/><rect x="11.35" y="9.4" width="2.5" height="5.1" fill="#fff"/><rect x="11.25" y="17.1" width="2.7" height="2" fill="#fff"/></svg>
<span class="t b" style="left:397.38px;top:27.00px;font-size:28.00px;letter-spacing:-0.888px;word-spacing:-2.38px;font-weight:700;">Process profile rule violation by command "bash" on container "cattle-system:dashboard-shell.cat…</span>
<span class="t b" style="left:363.64px;top:60.00px;font-size:24.00px;letter-spacing:-0.453px;font-weight:700;">Host:</span>
<span class="t" style="left:426.19px;top:60.00px;font-size:24.00px;letter-spacing:0.287px;">ubuntu2204-rke2-k8s-1.26</span>
<span class="t b" style="left:364.27px;top:96.00px;font-size:24.00px;letter-spacing:-0.567px;font-weight:700;">Container:</span>
<svg class="i-ns" style="left:484.00px;top:91.00px" width="26" height="24" viewBox="0 0 26 24"><g fill="none" stroke="#000"><path stroke-width="2.2" d="M5.9,1.5 Q2.6,1.5 2.6,5 V9 Q2.6,11.8 0.6,11.8 Q2.6,11.8 2.6,14.6 V19 Q2.6,22.4 5.9,22.4"/><path stroke-width="2.2" d="M20,1.5 Q23.3,1.5 23.3,5 V9 Q23.3,11.8 25.3,11.8 Q23.3,11.8 23.3,14.6 V19 Q23.3,22.4 20,22.4"/><rect x="7.1" y="9.2" width="11.7" height="5.4" stroke-width="2"/></g></svg>
<span class="t" style="left:515.63px;top:96.00px;font-size:24.00px;letter-spacing:0.153px;">cattle-system</span>
<span class="t" style="left:663.66px;top:96.00px;font-size:24.00px;-webkit-text-stroke:0;">|</span>
<svg class="i-mon" style="left:675.20px;top:90.00px" width="27" height="25" viewBox="0 0 27 25"><g fill="none" stroke="#000" stroke-linecap="round" stroke-linejoin="round"><path stroke-width="2.5" d="M1.3,12.3 V3.4 Q1.3,1.4 3.3,1.4 H17.8"/><rect x="6.2" y="6.1" width="18.4" height="13.6" rx="2.2" stroke-width="2.4"/><path stroke-width="2.7" stroke-linecap="butt" d="M15.35,20.5 V23.4"/><path stroke-width="1.9" d="M12.6,23.8 H18"/></g></svg>
<span class="t" style="left:707.24px;top:96.00px;font-size:24.00px;letter-spacing:-0.076px;">dashboard-shell.cattle-system</span>
<span class="t" style="left:1029.16px;top:96.00px;font-size:24.00px;-webkit-text-stroke:0;">|</span>
<svg class="i-pod" style="left:1044.70px;top:91.80px" width="19" height="23" viewBox="0 0 19 23"><g fill="#000"><path d="M6.3,0.3 H12.2 L12.9,2.9 H5.2 Z"/><path fill-rule="evenodd" d="M5.7,4.3 H12.7 L18.5,17 H0 Z M9,7.8 a2.4,2.4 0 1 0 0.01,0 Z"/><path d="M2,18.3 H16 Q16,21.9 12.4,21.9 H5.4 Q2,21.9 2,18.3 Z"/></g></svg>
<span class="t" style="left:1072.54px;top:96.00px;font-size:24.00px;letter-spacing:-0.269px;">dashboard-shell-bbzsv</span>
<div class="bd" style="left:1695.00px;top:22.00px;width:110.00px;height:28.00px;background:#e8852f">Warning</div>
<div class="bd" style="left:1816.00px;top:22.00px;width:110.00px;height:28.00px;background:#6a8835">Container</div>
<div class="bd" style="left:1932.00px;top:22.00px;width:110.00px;height:28.00px;background:#6a8835">Process</div>
<span class="t" style="left:2448.71px;top:22.00px;font-size:20.60px;letter-spacing:-0.210px;word-spacing:-1.75px;color:#b1b2c4;">Aug 09, 24 16:13:58</span>
<span class="t b" style="left:2283.05px;top:61.00px;font-size:24.00px;letter-spacing:-0.591px;font-weight:700;">Action:</span>
<div class="act" style="left:2375.00px;top:57.00px;width:100.00px;height:31.60px;background:#f09e38;line-height:33.4px">Alert</div>
</li>
<li style="left:0;top:672px;width:2816px;height:168px;">
<div class="tl-dot" style="left:66.00px;top:64.00px;width:30.00px;height:30.00px;border:6px solid #d3e2f5;border-radius:50%;background:#fff"></div>
<span class="t" style="left:124.64px;top:74.00px;font-size:22.40px;letter-spacing:-0.690px;word-spacing:-1.90px;">12 days ago</span>
<svg class="i-warn" style="left:365.00px;top:24.20px" width="26" height="23" viewBox="0 0 26 23"><path fill="#000" d="M12.6,0 L25.6,22.5 H0.4 Z"/><rect x="11.35" y="9.4" width="2.5" height="5.1" fill="#fff"/><rect x="11.25" y="17.1" width="2.7" height="2" fill="#fff"/></svg>
<span class="t b" style="left:397.38px;top:27.00px;font-size:28.00px;letter-spacing:-0.888px;word-spacing:-2.38px;font-weight:700;">Process profile rule violation by command "bash" on container "cattle-system:dashboard-shell.cat…</span>
<span class="t b" style="left:363.64px;top:60.00px;font-size:24.00px;letter-spacing:-0.453px;font-weight:700;">Host:</span>
<span class="t" style="left:426.19px;top:60.00px;font-size:24.00px;letter-spacing:0.287px;">ubuntu2204-rke2-k8s-1.26</span>
<span class="t b" style="left:364.27px;top:96.00px;font-size:24.00px;letter-spacing:-0.567px;font-weight:700;">Container:</span>
<svg class="i-ns" style="left:484.00px;top:91.00px" width="26" height="24" viewBox="0 0 26 24"><g fill="none" stroke="#000"><path stroke-width="2.2" d="M5.9,1.5 Q2.6,1.5 2.6,5 V9 Q2.6,11.8 0.6,11.8 Q2.6,11.8 2.6,14.6 V19 Q2.6,22.4 5.9,22.4"/><path stroke-width="2.2" d="M20,1.5 Q23.3,1.5 23.3,5 V9 Q23.3,11.8 25.3,11.8 Q23.3,11.8 23.3,14.6 V19 Q23.3,22.4 20,22.4"/><rect x="7.1" y="9.2" width="11.7" height="5.4" stroke-width="2"/></g></svg>
<span class="t" style="left:515.63px;top:96.00px;font-size:24.00px;letter-spacing:0.153px;">cattle-system</span>
<span class="t" style="left:663.66px;top:96.00px;font-size:24.00px;-webkit-text-stroke:0;">|</span>
<svg class="i-mon" style="left:675.20px;top:90.00px" width="27" height="25" viewBox="0 0 27 25"><g fill="none" stroke="#000" stroke-linecap="round" stroke-linejoin="round"><path stroke-width="2.5" d="M1.3,12.3 V3.4 Q1.3,1.4 3.3,1.4 H17.8"/><rect x="6.2" y="6.1" width="18.4" height="13.6" rx="2.2" stroke-width="2.4"/><path stroke-width="2.7" stroke-linecap="butt" d="M15.35,20.5 V23.4"/><path stroke-width="1.9" d="M12.6,23.8 H18"/></g></svg>
<span class="t" style="left:707.24px;top:96.00px;font-size:24.00px;letter-spacing:-0.076px;">dashboard-shell.cattle-system</span>
<span class="t" style="left:1029.16px;top:96.00px;font-size:24.00px;-webkit-text-stroke:0;">|</span>
<svg class="i-pod" style="left:1044.70px;top:91.80px" width="19" height="23" viewBox="0 0 19 23"><g fill="#000"><path d="M6.3,0.3 H12.2 L12.9,2.9 H5.2 Z"/><path fill-rule="evenodd" d="M5.7,4.3 H12.7 L18.5,17 H0 Z M9,7.8 a2.4,2.4 0 1 0 0.01,0 Z"/><path d="M2,18.3 H16 Q16,21.9 12.4,21.9 H5.4 Q2,21.9 2,18.3 Z"/></g></svg>
<span class="t" style="left:1072.54px;top:96.00px;font-size:24.00px;letter-spacing:0.061px;">dashboard-shell-r6n5h</span>
<div class="bd" style="left:1695.00px;top:22.00px;width:110.00px;height:28.00px;background:#e8852f">Warning</div>
<div class="bd" style="left:1816.00px;top:22.00px;width:110.00px;height:28.00px;background:#6a8835">Container</div>
<div class="bd" style="left:1932.00px;top:22.00px;width:110.00px;height:28.00px;background:#6a8835">Process</div>
<span class="t" style="left:2448.71px;top:22.00px;font-size:20.60px;letter-spacing:-0.202px;word-spacing:-1.75px;color:#b1b2c4;">Aug 09, 24 16:04:07</span>
<span class="t b" style="left:2283.05px;top:61.00px;font-size:24.00px;letter-spacing:-0.591px;font-weight:700;">Action:</span>
<div class="act" style="left:2375.00px;top:57.00px;width:100.00px;height:31.60px;background:#f09e38;line-height:33.4px">Alert</div>
</li>
<li style="left:0;top:840px;width:2816px;height:168px;background:linear-gradient(to right,#fff,#efefef 50%,#fff) 130px 0/2582px 168px no-repeat;">
<div class="tl-dot" style="left:66.00px;top:64.00px;width:30.00px;height:30.00px;border:6px solid #d3e2f5;border-radius:50%;background:#fff"></div>
<span class="t" style="left:124.64px;top:74.00px;font-size:22.40px;letter-spacing:-0.690px;word-spacing:-1.90px;">13 days ago</span>
<svg class="i-warn" style="left:365.00px;top:24.20px" width="26" height="23" viewBox="0 0 26 23"><path fill="#000" d="M12.6,0 L25.6,22.5 H0.4 Z"/><rect x="11.35" y="9.4" width="2.5" height="5.1" fill="#fff"/><rect x="11.25" y="17.1" width="2.7" height="2" fill="#fff"/></svg>
<span class="t b" style="left:397.24px;top:27.00px;font-size:28.00px;letter-spacing:-1.155px;word-spacing:-2.38px;font-weight:700;">Suspicious process "scp" on host "suse15sp3-k3s-node1" was found</span>
<span class="t b" style="left:363.64px;top:60.00px;font-size:24.00px;letter-spacing:-0.453px;font-weight:700;">Host:</span>
<span class="t" style="left:426.58px;top:60.00px;font-size:24.00px;letter-spacing:-0.229px;">suse15sp3-k3s-node1</span>
<div class="bd" style="left:1695.00px;top:22.00px;width:110.00px;height:28.00px;background:#e8852f">Warning</div>
<div class="bd" style="left:1816.00px;top:22.00px;width:110.00px;height:28.00px;background:#6a8835">Host</div>
<div class="bd" style="left:1932.00px;top:22.00px;width:110.00px;height:28.00px;background:#6a8835">Process</div>
<span class="t" style="left:2448.71px;top:22.00px;font-size:20.60px;letter-spacing:-0.202px;word-spacing:-1.75px;color:#b1b2c4;">Aug 08, 24 22:31:57</span>
<span class="t b" style="left:2283.05px;top:61.00px;font-size:24.00px;letter-spacing:-0.591px;font-weight:700;">Action:</span>
<div class="act" style="left:2375.00px;top:57.00px;width:100.00px;height:31.60px;background:#f09e38;line-height:33.4px">Alert</div>
</li>
<li style="left:0;top:1008px;width:2816px;height:168px;">
<div class="tl-dot" style="left:66.00px;top:64.00px;width:30.00px;height:30.00px;border:6px solid #d3e2f5;border-radius:50%;background:#fff"></div>
<span class="t" style="left:124.64px;top:74.00px;font-size:22.40px;letter-spacing:-0.690px;word-spacing:-1.90px;">13 days ago</span>
<svg class="i-warn" style="left:365.00px;top:24.20px" width="26" height="23" viewBox="0 0 26 23"><path fill="#000" d="M12.6,0 L25.6,22.5 H0.4 Z"/><rect x="11.35" y="9.4" width="2.5" height="5.1" fill="#fff"/><rect x="11.25" y="17.1" width="2.7" height="2" fill="#fff"/></svg>
<span class="t b" style="left:397.24px;top:27.00px;font-size:28.00px;letter-spacing:-1.168px;word-spacing:-2.38px;font-weight:700;">Suspicious process "ssh" on host "suse15sp3-k3s-node1" was found</span>
<span class="t b" style="left:363.64px;top:60.00px;font-size:24.00px;letter-spacing:-0.453px;font-weight:700;">Host:</span>
<span class="t" style="left:426.58px;top:60.00px;font-size:24.00px;letter-spacing:-0.229px;">suse15sp3-k3s-node1</span>
<span class="t b" style="left:364.27px;top:96.00px;font-size:24.00px;letter-spacing:-0.567px;font-weight:700;">Container:</span>
<svg class="i-pod" style="left:489.20px;top:91.80px" width="19" height="23" viewBox="0 0 19 23"><g fill="#000"><path d="M6.3,0.3 H12.2 L12.9,2.9 H5.2 Z"/><path fill-rule="evenodd" d="M5.7,4.3 H12.7 L18.5,17 H0 Z M9,7.8 a2.4,2.4 0 1 0 0.01,0 Z"/><path d="M2,18.3 H16 Q16,21.9 12.4,21.9 H5.4 Q2,21.9 2,18.3 Z"/></g></svg>
<span class="t" style="left:516.22px;top:96.00px;font-size:24.00px;letter-spacing:-0.182px;">10.1.7.72</span>
<div class="bd" style="left:1695.00px;top:22.00px;width:110.00px;height:28.00px;background:#e8852f">Warning</div>
<div class="bd" style="left:1816.00px;top:22.00px;width:110.00px;height:28.00px;background:#6a8835">Host</div>
<div class="bd" style="left:1932.00px;top:22.00px;width:110.00px;height:28.00px;background:#6a8835">Process</div>
<span class="t" style="left:2448.71px;top:22.00px;font-size:20.60px;letter-spacing:-0.226px;word-spacing:-1.75px;color:#b1b2c4;">Aug 08, 24 22:31:54</span>
<span class="t b" style="left:2283.05px;top:61.00px;font-size:24.00px;letter-spacing:-0.591px;font-weight:700;">Action:</span>
<div class="act" style="left:2375.00px;top:57.00px;width:100.00px;height:31.60px;background:#f09e38;line-height:33.4px">Alert</div>
</li>
<li style="left:0;top:1176px;width:2816px;height:168px;background:linear-gradient(to right,#fff,#efefef 50%,#fff) 130px 0/2582px 168px no-repeat;">
<div class="tl-dot" style="left:66.00px;top:64.00px;width:30.00px;height:30.00px;border:6px solid #d3e2f5;border-radius:50%;background:#fff"></div>
<span class="t" style="left:124.64px;top:74.00px;font-size:22.40px;letter-spacing:-0.690px;word-spacing:-1.90px;">13 days ago</span>
<svg class="i-warn" style="left:365.00px;top:24.20px" width="26" height="23" viewBox="0 0 26 23"><path fill="#000" d="M12.6,0 L25.6,22.5 H0.4 Z"/><rect x="11.35" y="9.4" width="2.5" height="5.1" fill="#fff"/><rect x="11.25" y="17.1" width="2.7" height="2" fill="#fff"/></svg>
<span class="t b" style="left:397.24px;top:27.00px;font-size:28.00px;letter-spacing:-1.155px;word-spacing:-2.38px;font-weight:700;">Suspicious process "scp" on host "suse15sp3-k3s-node1" was found</span>
<span class="t b" style="left:363.64px;top:60.00px;font-size:24.00px;letter-spacing:-0.453px;font-weight:700;">Host:</span>
<span class="t" style="left:426.58px;top:60.00px;font-size:24.00px;letter-spacing:-0.229px;">suse15sp3-k3s-node1</span>
<div class="bd" style="left:1695.00px;top:22.00px;width:110.00px;height:28.00px;background:#e8852f">Warning</div>
<div class="bd" style="left:1816.00px;top:22.00px;width:110.00px;height:28.00px;background:#6a8835">Host</div>
<div class="bd" style="left:1932.00px;top:22.00px;width:110.00px;height:28.00px;background:#6a8835">Process</div>
<span class="t" style="left:2448.71px;top:22.00px;font-size:20.60px;letter-spacing:-0.202px;word-spacing:-1.75px;color:#b1b2c4;">Aug 08, 24 22:31:47</span>
<span class="t b" style="left:2283.05px;top:61.00px;font-size:24.00px;letter-spacing:-0.591px;font-weight:700;">Action:</span>
<div class="act" style="left:2375.00px;top:57.00px;width:100.00px;height:31.60px;background:#f09e38;line-height:33.4px">Alert</div>
</li>
</ul>
</main>
</div></body></html>
